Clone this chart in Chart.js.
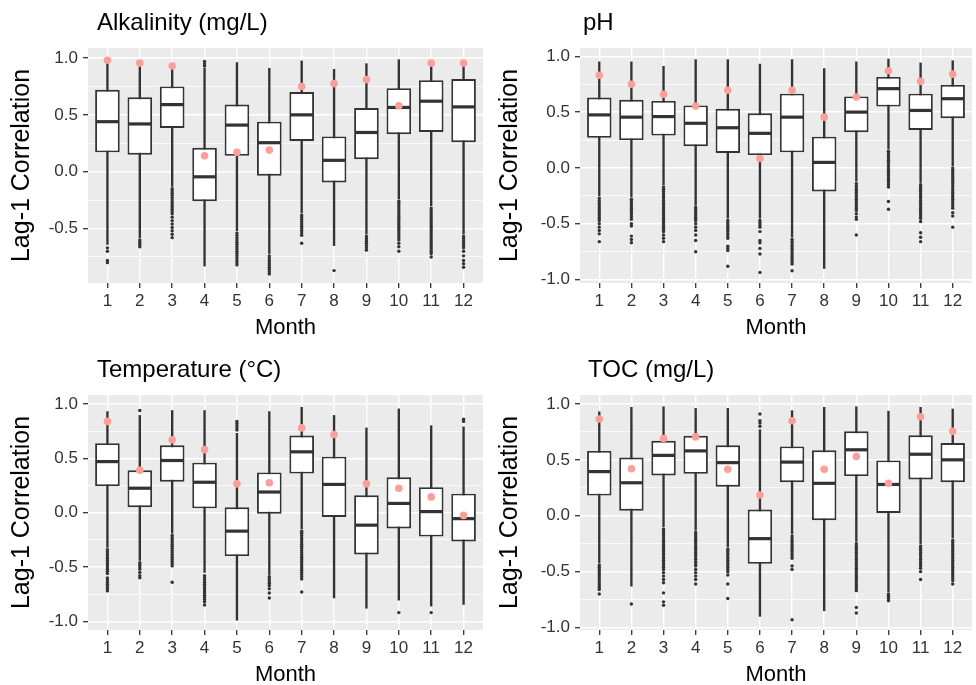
<!DOCTYPE html>
<html><head><meta charset="utf-8">
<script src="https://cdn.jsdelivr.net/npm/chart.js@4.4.1/dist/chart.umd.min.js"></script>
<style>
html,body{margin:0;padding:0;background:#fff;overflow:hidden;width:976px;height:685px;position:relative;}
canvas{position:absolute;}
</style></head><body>
<canvas id="c1" width="488" height="342" style="left:0px;top:0px"></canvas>
<canvas id="c2" width="488" height="342" style="left:488px;top:0px"></canvas>
<canvas id="c3" width="488" height="342" style="left:0px;top:347px"></canvas>
<canvas id="c4" width="488" height="342" style="left:488px;top:347px"></canvas>
<script>
const months = [1,2,3,4,5,6,7,8,9,10,11,12];
const yTickValues = [-1,-0.75,-0.5,-0.25,0,0.25,0.5,0.75,1];

// Alkalinity (mg/L)
const alkLow  = [-0.64,-0.58,-0.13,-0.83,-0.52,-0.72,-0.36,-0.65,-0.55,-0.24,-0.30,-0.55];
const alkQ1   = [0.17,0.15,0.385,-0.26,0.14,-0.035,0.27,-0.095,0.11,0.33,0.35,0.26];
const alkMed  = [0.44,0.42,0.59,-0.045,0.41,0.255,0.50,0.10,0.345,0.565,0.62,0.57];
const alkQ3   = [0.72,0.655,0.75,0.21,0.59,0.44,0.70,0.31,0.56,0.735,0.805,0.815];
const alkHigh = [0.97,0.96,0.93,0.91,0.96,0.91,0.975,0.90,0.95,0.985,0.96,0.96];
const alkObs  = [0.98,0.955,0.93,0.14,0.17,0.19,0.75,0.775,0.81,0.58,0.955,0.955];
const alkOut = [
  [-0.67,-0.70,-0.78,-0.80],
  [-0.60,-0.62,-0.64,-0.66],
  [-0.15,-0.17,-0.19,-0.21,-0.23,-0.25,-0.27,-0.29,-0.31,-0.33,-0.35,-0.37,-0.40,-0.43,-0.46,-0.49,-0.52,-0.55,-0.58],
  [0.93,0.95,0.97],
  [-0.54,-0.56,-0.58,-0.60,-0.62,-0.64,-0.66,-0.68,-0.70,-0.72,-0.74,-0.76,-0.78,-0.80,-0.82],
  [-0.74,-0.76,-0.78,-0.80,-0.82,-0.84,-0.86,-0.88,-0.90],
  [-0.38,-0.40,-0.42,-0.44,-0.46,-0.48,-0.50,-0.52,-0.54,-0.56,-0.63],
  [-0.87],
  [-0.57,-0.59,-0.61,-0.63,-0.65,-0.67,-0.69],
  [-0.26,-0.28,-0.30,-0.32,-0.34,-0.36,-0.38,-0.40,-0.42,-0.44,-0.46,-0.48,-0.50,-0.52,-0.54,-0.56,-0.58,-0.60,-0.63,-0.66,-0.70],
  [-0.32,-0.34,-0.36,-0.38,-0.40,-0.42,-0.44,-0.46,-0.48,-0.50,-0.52,-0.54,-0.56,-0.58,-0.60,-0.62,-0.64,-0.66,-0.68,-0.70,-0.72,-0.75],
  [-0.57,-0.59,-0.61,-0.63,-0.65,-0.67,-0.70,-0.74,-0.78,-0.81,-0.84]
];

// pH
const phLow  = [-0.25,-0.26,-0.15,-0.33,-0.45,-0.45,-0.62,-0.90,-0.12,0.17,-0.13,0.02];
const phQ1   = [0.27,0.25,0.29,0.195,0.135,0.115,0.14,-0.21,0.32,0.55,0.34,0.445];
const phMed  = [0.475,0.455,0.46,0.40,0.36,0.31,0.455,0.05,0.50,0.71,0.515,0.62];
const phQ3   = [0.63,0.61,0.60,0.56,0.53,0.49,0.665,0.28,0.64,0.815,0.665,0.745];
const phHigh = [0.95,0.95,0.91,0.97,0.97,0.93,0.97,0.89,0.95,0.975,0.94,0.96];
const phObs  = [0.83,0.75,0.66,0.555,0.695,0.085,0.695,0.455,0.635,0.87,0.775,0.84];
const phOut = [
  [-0.27,-0.29,-0.31,-0.33,-0.35,-0.37,-0.39,-0.41,-0.43,-0.45,-0.47,-0.50,-0.53,-0.56,-0.59,-0.66],
  [-0.28,-0.30,-0.32,-0.34,-0.36,-0.38,-0.40,-0.42,-0.44,-0.46,-0.50,-0.52,-0.61,-0.64,-0.67],
  [-0.17,-0.19,-0.21,-0.23,-0.25,-0.27,-0.29,-0.31,-0.33,-0.35,-0.37,-0.39,-0.41,-0.43,-0.45,-0.47,-0.49,-0.51,-0.53,-0.55,-0.57,-0.60,-0.63,-0.66],
  [-0.35,-0.37,-0.39,-0.41,-0.43,-0.45,-0.47,-0.50,-0.53,-0.56,-0.60,-0.65,-0.75],
  [-0.47,-0.49,-0.51,-0.53,-0.55,-0.57,-0.59,-0.61,-0.63,-0.70,-0.72,-0.74,-0.88],
  [-0.47,-0.49,-0.51,-0.53,-0.57,-0.65,-0.67,-0.72,-0.77,-0.935],
  [-0.64,-0.66,-0.68,-0.70,-0.72,-0.74,-0.76,-0.78,-0.80,-0.82,-0.84,-0.86,-0.92],
  [],
  [-0.14,-0.16,-0.18,-0.20,-0.22,-0.24,-0.26,-0.28,-0.30,-0.32,-0.34,-0.36,-0.38,-0.41,-0.44,-0.46,-0.60],
  [0.15,0.13,0.11,0.09,0.07,0.05,0.03,0.01,-0.01,-0.03,-0.05,-0.07,-0.09,-0.11,-0.13,-0.15,-0.17,-0.30,-0.37],
  [-0.15,-0.17,-0.19,-0.21,-0.23,-0.25,-0.27,-0.29,-0.31,-0.33,-0.35,-0.37,-0.39,-0.41,-0.43,-0.45,-0.48,-0.58,-0.62,-0.66],
  [0.00,-0.02,-0.04,-0.06,-0.08,-0.10,-0.12,-0.14,-0.16,-0.18,-0.20,-0.22,-0.24,-0.26,-0.28,-0.30,-0.32,-0.34,-0.36,-0.40,-0.43,-0.53]
];

// Temperature (°C)
const tempLow  = [-0.32,-0.44,-0.19,-0.55,-0.99,-0.57,-0.15,-0.785,-0.88,-0.805,-0.86,-0.845];
const tempQ1   = [0.245,0.05,0.285,0.04,-0.40,-0.01,0.36,-0.04,-0.385,-0.145,-0.22,-0.265];
const tempMed  = [0.47,0.225,0.48,0.28,-0.17,0.19,0.56,0.26,-0.115,0.085,0.01,-0.055];
const tempQ3   = [0.64,0.39,0.62,0.46,0.05,0.37,0.71,0.515,0.16,0.325,0.235,0.175];
const tempHigh = [0.93,0.895,0.94,0.94,0.73,0.93,0.97,0.895,0.78,0.955,0.80,0.79];
const tempObs  = [0.84,0.39,0.67,0.58,0.265,0.275,0.78,0.72,0.265,0.225,0.145,-0.025];
const tempOut = [
  [-0.34,-0.36,-0.38,-0.40,-0.42,-0.44,-0.46,-0.48,-0.50,-0.52,-0.54,-0.56,-0.60,-0.62,-0.64,-0.66,-0.68,-0.70,-0.72],
  [0.94,-0.46,-0.48,-0.50,-0.52,-0.55,-0.58,-0.60],
  [-0.21,-0.23,-0.25,-0.27,-0.29,-0.31,-0.33,-0.35,-0.37,-0.39,-0.41,-0.43,-0.45,-0.47,-0.49,-0.64],
  [-0.58,-0.60,-0.62,-0.64,-0.66,-0.68,-0.70,-0.72,-0.74,-0.76,-0.78,-0.80,-0.82,-0.85],
  [0.76,0.78,0.80,0.82,0.84],
  [-0.59,-0.61,-0.63,-0.65,-0.67,-0.70,-0.74,-0.785],
  [-0.17,-0.19,-0.21,-0.23,-0.25,-0.27,-0.29,-0.31,-0.33,-0.35,-0.37,-0.39,-0.41,-0.43,-0.45,-0.47,-0.49,-0.51,-0.53,-0.55,-0.57,-0.59,-0.61,-0.73],
  [],
  [],
  [-0.92],
  [-0.92],
  [0.84,0.86]
];

// TOC (mg/L)
const tocLow  = [-0.42,-0.63,-0.10,-0.13,-0.28,-0.90,-0.16,-0.85,-0.23,-0.68,-0.25,-0.20];
const tocQ1   = [0.18,0.045,0.36,0.375,0.26,-0.43,0.30,-0.04,0.355,0.025,0.325,0.30];
const tocMed  = [0.395,0.295,0.54,0.58,0.475,-0.205,0.48,0.29,0.59,0.28,0.55,0.50];
const tocQ3   = [0.58,0.52,0.67,0.715,0.63,0.055,0.62,0.585,0.755,0.495,0.72,0.65];
const tocHigh = [0.93,0.97,0.975,0.96,0.96,0.77,0.94,0.97,0.975,0.935,0.97,0.955];
const tocObs  = [0.865,0.42,0.69,0.705,0.415,0.185,0.85,0.415,0.53,0.29,0.885,0.755];
const tocOut = [
  [-0.44,-0.46,-0.48,-0.50,-0.52,-0.54,-0.56,-0.58,-0.60,-0.62,-0.64,-0.66,-0.70],
  [-0.79],
  [-0.12,-0.14,-0.16,-0.18,-0.20,-0.22,-0.24,-0.26,-0.28,-0.30,-0.32,-0.34,-0.36,-0.38,-0.40,-0.42,-0.44,-0.46,-0.48,-0.51,-0.54,-0.57,-0.60,-0.69,-0.77,-0.80],
  [-0.15,-0.17,-0.19,-0.21,-0.23,-0.25,-0.27,-0.29,-0.31,-0.33,-0.35,-0.37,-0.39,-0.41,-0.43,-0.45,-0.48,-0.51,-0.54,-0.57,-0.61],
  [-0.30,-0.32,-0.34,-0.36,-0.38,-0.40,-0.42,-0.44,-0.46,-0.48,-0.50,-0.53,-0.61,-0.74],
  [0.80,0.83,0.85,0.91],
  [-0.18,-0.20,-0.22,-0.24,-0.26,-0.28,-0.30,-0.32,-0.34,-0.36,-0.38,-0.45,-0.48,-0.93],
  [],
  [-0.25,-0.27,-0.29,-0.31,-0.33,-0.35,-0.37,-0.39,-0.41,-0.43,-0.45,-0.47,-0.49,-0.51,-0.53,-0.55,-0.57,-0.59,-0.61,-0.63,-0.65,-0.67,-0.82,-0.87],
  [-0.70,-0.72,-0.74,-0.76],
  [-0.27,-0.29,-0.31,-0.33,-0.35,-0.37,-0.39,-0.41,-0.43,-0.45,-0.47,-0.50,-0.57],
  [-0.22,-0.24,-0.26,-0.28,-0.30,-0.32,-0.34,-0.36,-0.38,-0.40,-0.42,-0.44,-0.46,-0.48,-0.50,-0.52,-0.54,-0.56,-0.58,-0.61]
];

const FONT = '"Liberation Sans", Arial, Helvetica, sans-serif';
Chart.defaults.font.family = FONT;
const DARK = '#333333';
const isMajor = v => Math.abs(v * 2 - Math.round(v * 2)) < 1e-9;

const panels = [
  {id:'c1', title:'Alkalinity (mg/L)', low:alkLow, q1:alkQ1, med:alkMed, q3:alkQ3, high:alkHigh, obs:alkObs, out:alkOut, yMin:-0.979, yMax:1.088, yw:88, padRight:5, tOff:9},
  {id:'c2', title:'pH', low:phLow, q1:phQ1, med:phMed, q3:phQ3, high:phHigh, obs:phObs, out:phOut, yMin:-1.03, yMax:1.074, yw:92, padRight:1, tOff:3},
  {id:'c3', title:'Temperature (°C)', low:tempLow, q1:tempQ1, med:tempMed, q3:tempQ3, high:tempHigh, obs:tempObs, out:tempOut, yMin:-1.08, yMax:1.083, yw:88, padRight:5, tOff:9},
  {id:'c4', title:'TOC (mg/L)', low:tocLow, q1:tocQ1, med:tocMed, q3:tocQ3, high:tocHigh, obs:tocObs, out:tocOut, yMin:-1.022, yMax:1.08, yw:92, padRight:1, tOff:8}
];

function makePanel(p) {
  const bgPlugin = {
    id: 'panelBg',
    beforeDraw(chart) {
      const a = chart.chartArea, ctx = chart.ctx;
      ctx.save(); ctx.fillStyle = '#EBEBEB';
      ctx.fillRect(a.left, a.top, a.right - a.left, a.bottom - a.top);
      ctx.restore();
    },
    afterDraw(chart) {
      const a = chart.chartArea, ctx = chart.ctx;
      ctx.save();
      ctx.fillStyle = '#000';
      ctx.font = '24px ' + FONT;
      ctx.textBaseline = 'alphabetic';
      ctx.textAlign = 'left';
      ctx.fillText(p.title, a.left + p.tOff, 29.7);
      ctx.restore();
    }
  };
  const medianPlugin = {
    id: 'medianLines',
    afterDatasetDraw(chart, args) {
      if (args.index !== 1) return;
      const ctx = chart.ctx, ys = chart.scales.y;
      ctx.save();
      ctx.beginPath();
      ctx.rect(chart.chartArea.left, chart.chartArea.top, chart.chartArea.right - chart.chartArea.left, chart.chartArea.bottom - chart.chartArea.top);
      ctx.clip();
      ctx.strokeStyle = DARK; ctx.lineWidth = 3.2;
      args.meta.data.forEach((el, i) => {
        const {x, width} = el.getProps(['x', 'width'], true);
        const py = ys.getPixelForValue(p.med[i]);
        ctx.beginPath();
        ctx.moveTo(x - width / 2 + 0.9, py);
        ctx.lineTo(x + width / 2 - 0.9, py);
        ctx.stroke();
      });
      ctx.restore();
    }
  };
  const whiskers = months.map((m, i) => ({x: m, y: [p.low[i], p.high[i]]}));
  const boxes = months.map((m, i) => ({x: m, y: [p.q1[i], p.q3[i]]}));
  const outliers = months.flatMap((m, i) => p.out[i].map(v => ({x: m, y: v})));
  const observed = months.map((m, i) => ({x: m, y: p.obs[i]}));

  new Chart(document.getElementById(p.id), {
    type: 'bar',
    data: {
      datasets: [
        {type: 'bar', label: 'whiskers', data: whiskers, backgroundColor: DARK, borderWidth: 0, barThickness: 1.7, grouped: false, order: 4},
        {type: 'bar', label: 'boxes', data: boxes, backgroundColor: '#FFFFFF', borderColor: DARK, borderWidth: 1.9, borderSkipped: false, barPercentage: 0.76, categoryPercentage: 1, grouped: false, order: 3},
        {type: 'scatter', label: 'outliers', data: outliers, pointRadius: 1.7, pointBackgroundColor: DARK, pointBorderWidth: 0, order: 2},
        {type: 'scatter', label: 'observed', data: observed, pointRadius: 3.8, pointBackgroundColor: '#FA9F99', pointBorderWidth: 0, order: 1}
      ]
    },
    options: {
      responsive: false, animation: false, devicePixelRatio: 1,
      layout: {padding: {top: 48, right: p.padRight, left: 0, bottom: 0}},
      plugins: {legend: {display: false}, tooltip: {enabled: false}},
      scales: {
        x: {
          type: 'linear', min: 0.4, max: 12.6, offset: false,
          afterBuildTicks: s => { s.ticks = months.map(v => ({value: v})); },
          afterFit: s => { s.height = 59; },
          ticks: {callback: v => String(v), font: {size: 17}, color: '#333', padding: 3, maxRotation: 0, autoSkip: false},
          grid: {offset: false, color: '#FFFFFF', lineWidth: 1.4, tickLength: 5, tickColor: DARK, tickWidth: 1.3},
          border: {display: false},
          title: {display: true, text: 'Month', font: {size: 22}, color: '#000', padding: {top: 0, bottom: 1}}
        },
        y: {
          type: 'linear', min: p.yMin, max: p.yMax, beginAtZero: false,
          afterBuildTicks: s => { s.ticks = yTickValues.filter(v => v >= p.yMin && v <= p.yMax).map(v => ({value: v})); },
          afterFit: s => { s.width = p.yw; },
          ticks: {callback: v => isMajor(v) ? v.toFixed(1) : '', font: {size: 17}, color: '#333', padding: 5, autoSkip: false},
          grid: {color: '#FFFFFF', lineWidth: c => isMajor(c.tick.value) ? 1.4 : 0.7, tickLength: 5,
                 tickColor: c => isMajor(c.tick.value) ? DARK : 'rgba(0,0,0,0)', tickWidth: 1.3},
          border: {display: false},
          title: {display: true, text: 'Lag-1 Correlation', font: {size: 25}, color: '#000', padding: {top: 7, bottom: 0}}
        }
      }
    },
    plugins: [bgPlugin, medianPlugin]
  });
}
panels.forEach(makePanel);
</script>
</body></html>
